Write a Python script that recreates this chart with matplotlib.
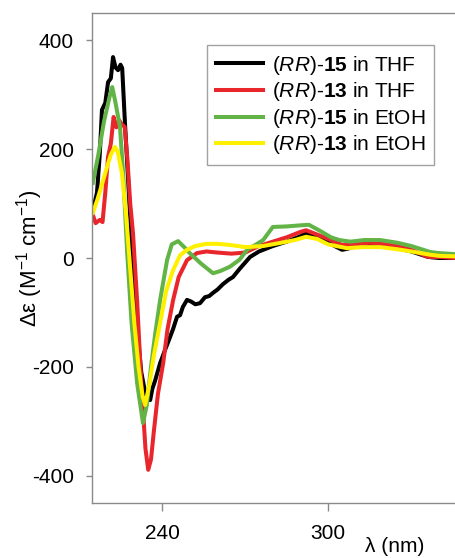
import numpy as np
import matplotlib
matplotlib.use("Agg")
import matplotlib.pyplot as plt

plt.rcParams['font.family'] = ['Liberation Sans', 'DejaVu Sans']
plt.rcParams['mathtext.fontset'] = 'custom'
plt.rcParams['mathtext.rm'] = 'Liberation Sans'
plt.rcParams['mathtext.it'] = 'Liberation Sans:italic'
plt.rcParams['mathtext.bf'] = 'Liberation Sans:bold'
plt.rcParams['axes.unicode_minus'] = False

# ---- data (wavelength nm, delta epsilon) ----
wl_15_thf = [215, 216.5, 217.5, 218.3, 219.5, 220.5, 221.5, 222.3, 223.2, 224.1, 225, 225.6,
             226.6, 228, 229.5, 231, 232.5, 234, 235.7, 236.5, 237.5, 239.3, 241, 242.9, 244,
             245.4, 246.5, 247.5, 249, 250.5, 252, 253.7, 255.5, 257, 258.4, 260, 262, 264,
             265.6, 268, 271.8, 275, 280, 285, 290, 292, 295, 300, 305, 307, 310, 315, 320,
             325, 330, 336, 340, 346]
de_15_thf = [88, 120, 190, 272, 285, 323, 330, 369, 350, 345, 355, 349,
             248, 120, -20, -130, -210, -250, -261, -240, -225, -193, -170, -145, -130,
             -108, -105, -90, -77, -80, -85, -83, -72, -70, -64, -58, -48, -40,
             -35, -20, 2, 12, 22, 30, 40, 46, 40, 28, 15, 17, 22, 24, 22,
             18, 12, 2, 0, 0]

wl_13_thf = [215, 216, 217.5, 218.5, 219.5, 220.5, 221.5, 222.5, 223.5, 224.5, 225.5, 226.5,
             227.5, 228.5, 229.5, 231, 232.5, 234, 235, 236, 237, 238.5, 240.4, 242, 244,
             246, 249, 252.6, 256, 260, 265, 270, 275, 280, 285, 290, 292, 295, 300, 305,
             310, 315, 320, 325, 330, 336, 340, 346]
de_13_thf = [79, 64, 70, 66, 120, 186, 210, 259, 240, 253, 245, 241,
             180, 100, 46, -80, -230, -350, -389, -370, -320, -250, -193, -130, -77,
             -35, -4, 9, 12, 10, 8, 10, 22, 30, 38, 48, 51, 45, 35, 24,
             26, 28, 26, 22, 15, 2, 2, 0]

wl_15_etoh = [215, 217, 219, 221, 222, 223, 224.8, 226, 227.4, 229, 231, 233.1, 234.5, 236,
              237.5, 239.3, 241.8, 243.5, 245.8, 248, 250, 254, 258.4, 261, 264.5, 268,
              270.7, 274, 276.5, 280, 285, 290, 293, 297, 301, 304, 308, 313, 318.7, 325,
              330, 336.8, 340, 346]
de_15_etoh = [138, 190, 250, 295, 314, 290, 241, 150, 10, -120, -230, -303, -270, -200,
              -140, -77, -4, 25, 31, 20, 9, -10, -28, -24, -16, -3,
              15, 25, 33, 57, 58, 60, 61, 50, 38, 33, 30, 33, 33, 28,
              22, 11, 9, 7]

wl_13_etoh = [215, 216.5, 218, 220, 221.5, 223, 224, 225.5, 227, 228.5, 230, 231.5, 233,
              233.9, 235.5, 237, 239.3, 241.5, 244, 246.5, 249, 252, 256, 260, 264.5, 270,
              276.5, 283, 288, 292, 296, 300, 306.8, 312, 318.7, 325, 330, 336.8, 340, 346]
de_13_etoh = [83, 105, 130, 165, 190, 204, 195, 156, 80, -20, -120, -200, -255,
              -270, -230, -180, -119, -60, -22, 5, 15, 22, 26, 26, 24, 20,
              22, 28, 33, 39, 35, 25, 18, 20, 20, 16, 12, 6, 4, 3]

labels = [r'($\it{RR}$)-$\bf{15}$ in THF',
          r'($\it{RR}$)-$\bf{13}$ in THF',
          r'($\it{RR}$)-$\bf{15}$ in EtOH',
          r'($\it{RR}$)-$\bf{13}$ in EtOH']
colors = ['#000000', '#e8262b', '#62b446', '#fff000']

# ---- figure ----
W, H = 456, 558
fig = plt.figure(figsize=(W / 100, H / 100), dpi=100)
ax = fig.add_axes([92 / W, (H - 503) / H, 370 / W, 490 / H])

series = [(wl_15_thf, de_15_thf), (wl_13_thf, de_13_thf),
          (wl_15_etoh, de_15_etoh), (wl_13_etoh, de_13_etoh)]
for (x, y), lab, c in zip(series, labels, colors):
    ax.plot(x, y, color=c, lw=2.9, label=lab, solid_joinstyle='round')

ax.set_xlim(214.7, 348.3)
ax.set_ylim(-450, 450)
ax.set_xticks([240, 300])
ax.set_yticks([-400, -200, 0, 200, 400])

for s in ['top', 'left', 'bottom']:
    ax.spines[s].set_color('#8a8a8a')
    ax.spines[s].set_linewidth(1.0)
ax.spines['right'].set_visible(False)
ax.tick_params(axis='both', colors='#8a8a8a', labelcolor='black', labelsize=15, width=1.0)
ax.tick_params(axis='x', length=6, pad=9)
ax.tick_params(axis='y', length=4, pad=9)

# axis titles placed in figure pixels like the reference
fig.text(30 / W, 1 - 258 / H, 'Δε (M$^{-1}$ cm$^{-1}$)', fontsize=16,
         rotation=90, ha='center', va='center')
fig.text(395 / W, 1 - 547 / H, 'λ (nm)', fontsize=15, ha='center', va='center')

leg = ax.legend(loc='upper left', bbox_to_anchor=((207 - 92) / 370, (503 - 45) / 490),
                borderaxespad=0, fontsize=15, frameon=True, fancybox=False,
                handlelength=2.25, handletextpad=0.45, labelspacing=0.17, borderpad=0.42)
leg.get_frame().set_edgecolor('#8a8a8a')
leg.get_frame().set_linewidth(1.0)
for line in leg.get_lines():
    line.set_linewidth(2.9)

fig.savefig('out.png', dpi=100)
